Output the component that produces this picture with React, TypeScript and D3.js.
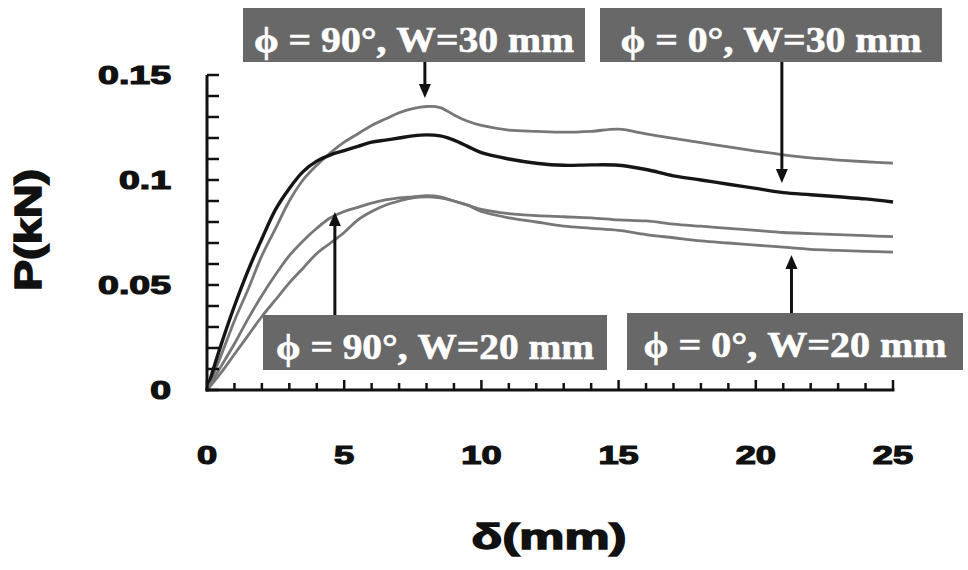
import React from "react";
import * as d3 from "d3";

// deflection δ (mm)
const deltaMm = [0, 0.5, 1, 1.5, 2, 2.5, 3, 3.5, 4, 4.5, 5, 5.5, 6, 6.5, 7, 7.5, 8, 8.5, 9, 9.5, 10, 11, 12, 13, 14, 15, 16, 17, 18, 19, 20, 21, 22, 23, 24, 25];

// load P (kN) for each specimen
const phi90W30 = [0, 0.016, 0.033, 0.048, 0.064, 0.077, 0.09, 0.1, 0.107, 0.113, 0.118, 0.122, 0.126, 0.129, 0.132, 0.134, 0.135, 0.1345, 0.131, 0.128, 0.126, 0.1238, 0.1232, 0.1228, 0.1232, 0.1242, 0.122, 0.1198, 0.1178, 0.1158, 0.1138, 0.112, 0.1105, 0.1095, 0.1087, 0.108];
const phi0W30 = [0, 0.021, 0.04, 0.057, 0.072, 0.086, 0.096, 0.104, 0.109, 0.112, 0.114, 0.116, 0.118, 0.119, 0.12, 0.121, 0.1215, 0.121, 0.119, 0.116, 0.113, 0.11, 0.108, 0.107, 0.1072, 0.107, 0.105, 0.102, 0.1, 0.098, 0.096, 0.094, 0.093, 0.092, 0.091, 0.0895];
const phi90W20 = [0, 0.011, 0.022, 0.034, 0.045, 0.055, 0.064, 0.071, 0.077, 0.082, 0.085, 0.087, 0.089, 0.0905, 0.0915, 0.092, 0.0925, 0.092, 0.09, 0.088, 0.086, 0.084, 0.083, 0.0825, 0.082, 0.081, 0.0805, 0.079, 0.078, 0.077, 0.076, 0.075, 0.0745, 0.074, 0.0735, 0.073];
const phi0W20 = [0, 0.008, 0.017, 0.026, 0.035, 0.043, 0.051, 0.058, 0.065, 0.07, 0.075, 0.081, 0.085, 0.088, 0.09, 0.0915, 0.092, 0.0915, 0.09, 0.088, 0.085, 0.082, 0.08, 0.078, 0.077, 0.076, 0.074, 0.0725, 0.071, 0.07, 0.069, 0.068, 0.067, 0.0665, 0.066, 0.0657];

const seriesColors = ["#777777", "#151515", "#777777", "#777777"];
const seriesWidths = [2.8, 3.4, 2.8, 2.8];

const xTickLabels = [0, 5, 10, 15, 20, 25];
const yTickLabels = ["0", "0.05", "0.1", "0.15"];
const yTickValues = [0, 0.05, 0.1, 0.15];

// annotations: label text, arrow x (mm), arrow tip P (kN)
const annoTexts = ["\u03D5 = 90\u00B0, W=30 mm", "\u03D5 = 0\u00B0, W=30 mm", "\u03D5 = 90\u00B0, W=20 mm", "\u03D5 = 0\u00B0, W=20 mm"];
const annoArrowX = [7.94, 20.95, 4.66, 21.3];
const annoArrowTip = [0.139, 0.0986, 0.0848, 0.0643];

export default function App() {
  const W = 968, H = 570;
  const left = 207, top = 75, right = 893, bottom = 390;
  const x = d3.scaleLinear().domain([0, 25]).range([left, right]);
  const y = d3.scaleLinear().domain([0, 0.15]).range([bottom, top]);

  const all = [phi90W30, phi0W30, phi90W20, phi0W20];
  const line = d3
    .line<[number, number]>()
    .x((d) => x(d[0]))
    .y((d) => y(d[1]))
    .curve(d3.curveCatmullRom.alpha(0.5));

  const xMinor = d3.range(0, 26, 1);
  const yMinor = d3.range(0, 16, 1).map((i) => i * 0.01);

  // box layout (pixels)
  const boxes = [
    { x0: 243, x1: 585, y0: 8, y1: 62, tl: 320 },
    { x0: 600, x1: 942, y0: 8, y1: 62, tl: 301 },
    { x0: 263, x1: 607, y0: 315, y1: 370, tl: 318 },
    { x0: 627, x1: 963, y0: 313, y1: 370, tl: 303 },
  ];

  const sans = "'Liberation Sans', Arial, sans-serif";
  const serif = "'Liberation Serif', 'Times New Roman', serif";

  return (
    <svg width={W} height={H} style={{ position: "absolute", left: 0, top: 0, background: "#fff" }}>
      <rect x={0} y={0} width={W} height={H} fill="#fff" />
      {/* curves */}
      {all.map((s, i) => (
        <path
          key={i}
          d={line(deltaMm.map((d, j) => [d, s[j]]) as [number, number][]) || ""}
          fill="none"
          stroke={seriesColors[i]}
          strokeWidth={seriesWidths[i]}
          strokeLinejoin="round"
        />
      ))}
      {/* axes */}
      <line x1={left} x2={left} y1={top} y2={bottom + 1.5} stroke="#111" strokeWidth={3} />
      <line x1={left - 1.5} x2={right + 1.5} y1={bottom} y2={bottom} stroke="#111" strokeWidth={3} />
      {yMinor.map((v, i) => (
        <line key={"yt" + i} x1={left} x2={left + 12} y1={y(v)} y2={y(v)} stroke="#111" strokeWidth={2.5} />
      ))}
      {xMinor.map((v, i) => (
        <line
          key={"xt" + i}
          x1={x(v)}
          x2={x(v)}
          y1={bottom}
          y2={bottom - (v % 5 === 0 ? 10 : 7)}
          stroke="#111"
          strokeWidth={2.5}
        />
      ))}
      {/* tick labels */}
      {yTickValues.map((v, i) => (
        <text
          key={"yl" + i}
          transform={`translate(171,${y(v) + 9}) scale(1.5,1)`}
          textAnchor="end"
          fontFamily={sans}
          fontWeight="bold"
          fontSize={25}
          fill="#111"
          stroke="#111"
          strokeWidth={1.2}
        >
          {yTickLabels[i]}
        </text>
      ))}
      {xTickLabels.map((v, i) => (
        <text
          key={"xl" + i}
          transform={`translate(${x(v)},464) scale(1.45,1)`}
          textAnchor="middle"
          fontFamily={sans}
          fontWeight="bold"
          fontSize={25}
          fill="#111"
          stroke="#111"
          strokeWidth={1.2}
        >
          {v}
        </text>
      ))}
      {/* axis titles */}
      <text
        transform={`translate(549,549) scale(1.45,1)`}
        textAnchor="middle"
        fontFamily={sans}
        fontWeight="bold"
        fontSize={35}
        fill="#111"
        stroke="#111"
        strokeWidth={1.5}
      >
        δ(mm)
      </text>
      <text
        transform={`translate(41,230) rotate(-90) scale(1.3,1)`}
        textAnchor="middle"
        fontFamily={sans}
        fontWeight="bold"
        fontSize={36}
        fill="#111"
        stroke="#111"
        strokeWidth={1.5}
      >
        P(kN)
      </text>
      {/* annotations */}
      {boxes.map((b, i) => {
        const ax = x(annoArrowX[i]);
        const tip = y(annoArrowTip[i]);
        const fromBottom = tip > b.y1;
        const base = fromBottom ? b.y1 : b.y0;
        const dir = fromBottom ? 1 : -1;
        const headLen = 14;
        return (
          <g key={"a" + i}>
            <rect x={b.x0} y={b.y0} width={b.x1 - b.x0} height={b.y1 - b.y0} fill="#686868" />
            <text
              x={(b.x0 + b.x1) / 2}
              y={b.y0 + 44}
              textAnchor="middle"
              fontFamily={serif}
              fontWeight="bold"
              fontSize={35}
              fill="#fff"
              stroke="#fff"
              strokeWidth={0.6}
              textLength={b.tl}
              lengthAdjust="spacingAndGlyphs"
            >
              {annoTexts[i]}
            </text>
            <line x1={ax} x2={ax} y1={base} y2={tip - dir * headLen} stroke="#111" strokeWidth={3} />
            <path
              d={`M${ax - 6},${tip - dir * headLen} L${ax + 6},${tip - dir * headLen} L${ax},${tip} Z`}
              fill="#111"
            />
          </g>
        );
      })}
    </svg>
  );
}
